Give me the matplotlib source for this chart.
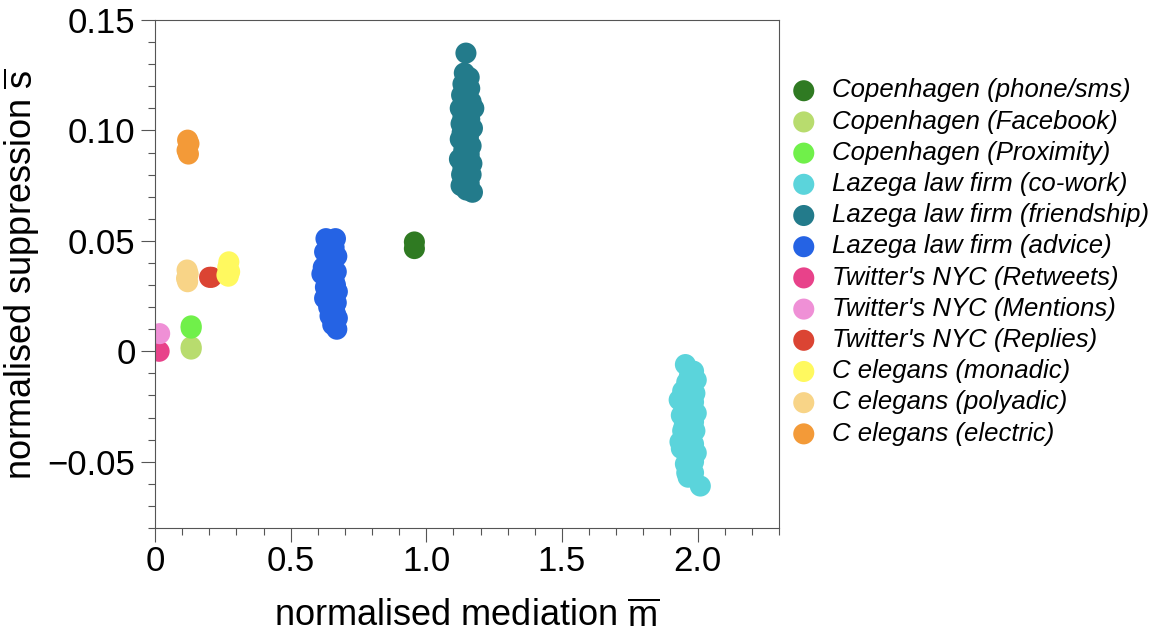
import matplotlib
matplotlib.use("Agg")
import matplotlib.pyplot as plt
from matplotlib.ticker import FixedLocator, MultipleLocator

plt.rcParams['font.family'] = ['Liberation Sans', 'DejaVu Sans']
plt.rcParams['mathtext.fontset'] = 'custom'
plt.rcParams['mathtext.rm'] = 'Liberation Sans'
plt.rcParams['mathtext.it'] = 'Liberation Sans:italic'

# --- data ---
labels = [
    "Copenhagen (phone/sms)", "Copenhagen (Facebook)", "Copenhagen (Proximity)",
    "Lazega law firm (co-work)", "Lazega law firm (friendship)", "Lazega law firm (advice)",
    "Twitter's NYC (Retweets)", "Twitter's NYC (Mentions)", "Twitter's NYC (Replies)",
    "C elegans (monadic)", "C elegans (polyadic)", "C elegans (electric)",
]
colors = ["#2f7a22", "#b8dc6e", "#70f04a", "#5bd4db", "#237b8b", "#2563e4",
          "#e8428a", "#ef90d6", "#db4433", "#fff95f", "#f8d487", "#f39a38"]

phone_x = [0.956, 0.956]
phone_y = [0.0465, 0.0495]
facebook_x = [0.133, 0.133]
facebook_y = [0.001, 0.002]
proximity_x = [0.133, 0.133]
proximity_y = [0.0105, 0.0115]

cowork_x = [1.955, 1.985, 1.970, 1.995, 1.960, 1.980, 1.945, 1.990, 1.932, 1.965, 1.985, 1.950,
            1.975, 1.995, 1.940, 1.965, 1.985, 1.950, 1.990, 1.945, 1.970, 1.935, 1.960, 1.985,
            1.950, 1.975, 1.995, 1.940, 1.965, 1.985, 1.955, 1.975, 1.960, 1.985, 1.965, 2.010,
            1.972, 1.958, 1.978, 1.968]
cowork_y = [-0.006, -0.009, -0.011, -0.013, -0.014, -0.016, -0.018, -0.019, -0.022, -0.021, -0.023, -0.025,
            -0.026, -0.028, -0.029, -0.031, -0.032, -0.034, -0.036, -0.036, -0.038, -0.041, -0.040, -0.042,
            -0.043, -0.045, -0.046, -0.044, -0.048, -0.050, -0.051, -0.053, -0.055, -0.055, -0.057, -0.061,
            -0.020, -0.033, -0.047, -0.027]

friend_x = [1.146, 1.140, 1.158, 1.135, 1.160, 1.130, 1.150, 1.165, 1.140, 1.125, 1.175, 1.150,
            1.135, 1.160, 1.128, 1.145, 1.170, 1.132, 1.155, 1.125, 1.148, 1.165, 1.138, 1.158,
            1.122, 1.145, 1.168, 1.135, 1.155, 1.130, 1.150, 1.165, 1.140, 1.128, 1.158, 1.170, 1.148,
            1.152, 1.142, 1.156]
friend_y = [0.135, 0.126, 0.124, 0.121, 0.119, 0.116, 0.115, 0.113, 0.112, 0.110, 0.110, 0.108,
            0.106, 0.105, 0.103, 0.102, 0.101, 0.099, 0.097, 0.096, 0.094, 0.093, 0.091, 0.089,
            0.087, 0.086, 0.085, 0.083, 0.082, 0.080, 0.079, 0.080, 0.077, 0.075, 0.076, 0.072, 0.073,
            0.118, 0.104, 0.090]

advice_x = [0.630, 0.665, 0.640, 0.660, 0.625, 0.650, 0.670, 0.635, 0.655, 0.620, 0.645, 0.668,
            0.630, 0.650, 0.660, 0.615, 0.640, 0.665, 0.628, 0.650, 0.672, 0.635, 0.655, 0.625,
            0.645, 0.668, 0.640, 0.660, 0.650, 0.665, 0.672, 0.645, 0.660, 0.655, 0.670,
            0.648, 0.652, 0.642]
advice_y = [0.051, 0.051, 0.048, 0.047, 0.045, 0.044, 0.043, 0.041, 0.040, 0.038, 0.037, 0.036,
            0.035, 0.034, 0.032, 0.035, 0.031, 0.030, 0.029, 0.028, 0.027, 0.026, 0.025, 0.024,
            0.023, 0.022, 0.020, 0.019, 0.018, 0.017, 0.015, 0.016, 0.013, 0.012, 0.010,
            0.046, 0.039, 0.021]

retweets_x = [0.015]
retweets_y = [0.0]
mentions_x = [0.017]
mentions_y = [0.008]
replies_x = [0.201, 0.208]
replies_y = [0.0335, 0.0335]

monadic_x = [0.272, 0.268, 0.275, 0.265, 0.270]
monadic_y = [0.0405, 0.038, 0.036, 0.0345, 0.034]
polyadic_x = [0.118, 0.122, 0.116, 0.120]
polyadic_y = [0.0368, 0.035, 0.033, 0.0315]
electric_x = [0.120, 0.125, 0.118, 0.123]
electric_y = [0.0956, 0.094, 0.091, 0.0893]

series_x = [phone_x, facebook_x, proximity_x, cowork_x, friend_x, advice_x,
            retweets_x, mentions_x, replies_x, monadic_x, polyadic_x, electric_x]
series_y = [phone_y, facebook_y, proximity_y, cowork_y, friend_y, advice_y,
            retweets_y, mentions_y, replies_y, monadic_y, polyadic_y, electric_y]

xticks = [0, 0.5, 1.0, 1.5, 2.0]
xtick_labels = ["0", "0.5", "1.0", "1.5", "2.0"]
yticks = [-0.05, 0, 0.05, 0.10, 0.15]
ytick_labels = ["\u22120.05", "0", "0.05", "0.10", "0.15"]

# --- figure ---
fig = plt.figure(figsize=(11.58, 6.38), dpi=100)
ax = fig.add_axes([0.1339, 0.1724, 0.5388, 0.7963])

for xs, ys, c, lab in zip(series_x, series_y, colors, labels):
    ax.scatter(xs, ys, s=230, color=c, edgecolors='none', label=lab)

ax.set_xlim(0, 2.3)
ax.set_ylim(-0.08, 0.15)

ax.xaxis.set_major_locator(FixedLocator(xticks))
ax.set_xticklabels(xtick_labels)
ax.xaxis.set_minor_locator(MultipleLocator(0.1))
ax.yaxis.set_major_locator(FixedLocator(yticks))
ax.set_yticklabels(ytick_labels)
ax.yaxis.set_minor_locator(MultipleLocator(0.01))

ax.tick_params(which='major', direction='out', length=10, width=0.8, color='#555555',
               labelsize=25, pad=4, top=False, right=False)
ax.tick_params(axis='x', which='major', pad=2)
ax.tick_params(which='minor', direction='out', length=5, width=0.8, color='#555555',
               top=False, right=False)
for sp in ax.spines.values():
    sp.set_color('#555555')
    sp.set_linewidth(0.8)

ax.set_xlabel(r"normalised mediation $\overline{\mathrm{m}}$", fontsize=26, labelpad=16)
ax.set_ylabel(r"normalised suppression $\overline{\mathrm{s}}$", fontsize=26, labelpad=4)

ax.legend(loc='upper left', bbox_to_anchor=(0.683, 0.877), bbox_transform=fig.transFigure,
          frameon=False, scatterpoints=1, handlelength=1.0, handletextpad=0.6,
          labelspacing=0.28, borderaxespad=0, borderpad=0,
          prop={'family': 'Liberation Sans', 'style': 'italic', 'size': 18.5})

plt.savefig("out.png", dpi=100)
plt.close()
